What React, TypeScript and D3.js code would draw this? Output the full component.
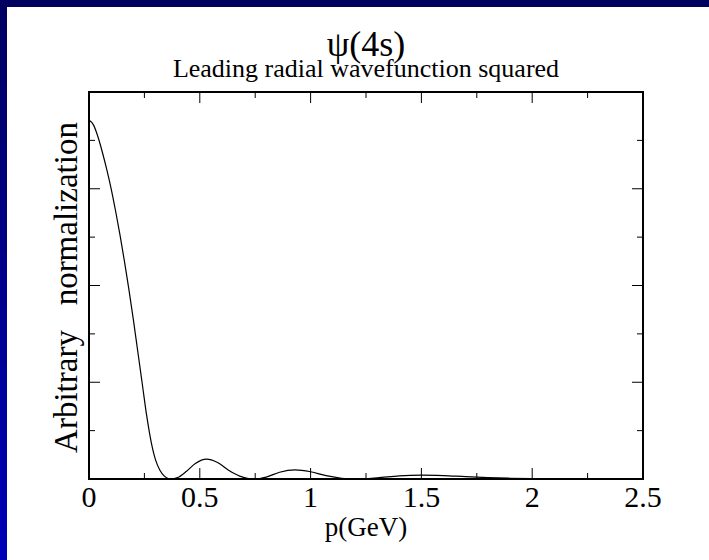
import React from "react";
import * as d3 from "d3";

const pValues = [0, 0.02, 0.04, 0.06, 0.08, 0.1, 0.12, 0.14, 0.16, 0.18, 0.2, 0.22, 0.24, 0.26, 0.28, 0.3, 0.32, 0.34, 0.36, 0.37, 0.4, 0.44, 0.48, 0.53, 0.58, 0.63, 0.68, 0.72, 0.75, 0.8, 0.86, 0.93, 1.0, 1.07, 1.14, 1.2, 1.3, 1.4, 1.5, 1.6, 1.7, 1.8, 1.9, 2.0, 2.1, 2.2, 2.5];
const psiValues = [3.71, 3.66, 3.54, 3.38, 3.2, 3.0, 2.77, 2.52, 2.25, 1.96, 1.65, 1.32, 0.99, 0.66, 0.39, 0.2, 0.09, 0.03, 0.003, 0, 0.015, 0.08, 0.16, 0.205, 0.17, 0.09, 0.03, 0.005, 0, 0.02, 0.07, 0.094, 0.075, 0.035, 0.008, 0, 0.012, 0.033, 0.04, 0.035, 0.024, 0.015, 0.008, 0.003, 0.001, 0, 0];
const xTickLabels = ["0", "0.5", "1", "1.5", "2", "2.5"];
const xMajor = [0, 0.5, 1, 1.5, 2, 2.5];
const xMinor = [0.25, 0.75, 1.25, 1.75, 2.25];
const yMajor = [1, 2, 3];
const yMinor = [0.5, 1.5, 2.5, 3.5];

const W = 709, H = 560;
const L = 89, R = 643, T = 92, B = 479;
const FONT = "Liberation Serif, Times New Roman, DejaVu Serif, serif";

export default function App() {
  const x = d3.scaleLinear().domain([0, 2.5]).range([L, R]);
  const y = d3.scaleLinear().domain([0, 4]).range([B, T]);
  const data = pValues.map((p, i) => [p, psiValues[i]] as [number, number]);
  const line = d3.line<[number, number]>().x(d => x(d[0])).y(d => y(d[1])).curve(d3.curveMonotoneX);

  const majorLen = 11, minorLen = 6;
  const txt = { fontFamily: FONT, fill: "#000" } as React.CSSProperties;
  return (
    <svg width={W} height={H} style={{ position: "absolute", left: 0, top: 0 }} xmlns="http://www.w3.org/2000/svg">
      <defs>
        <linearGradient id="leftGrad" x1="0" y1="0" x2="0" y2="1">
          <stop offset="0" stopColor="#000060" />
          <stop offset="1" stopColor="#0000b8" />
        </linearGradient>
      </defs>
      <rect x={0} y={0} width={W} height={H} fill="#ffffff" />
      <rect x={0} y={0} width={7} height={H} fill="url(#leftGrad)" />
      <rect x={0} y={0} width={W} height={7} fill="#000060" />

      <text x={366} y={56} textAnchor="middle" style={{ ...txt, fontSize: 36 }}>ψ(4s)</text>
      <text x={366} y={77} textAnchor="middle" style={{ ...txt, fontSize: 26 }}>Leading radial wavefunction squared</text>

      {xMajor.map((v, i) => (
        <g key={"xM" + i}>
          <line x1={x(v)} x2={x(v)} y1={B} y2={B - majorLen} stroke="#000" strokeWidth={1} />
          <line x1={x(v)} x2={x(v)} y1={T} y2={T + majorLen} stroke="#000" strokeWidth={1} />
        </g>
      ))}
      {xMinor.map((v, i) => (
        <g key={"xm" + i}>
          <line x1={x(v)} x2={x(v)} y1={B} y2={B - minorLen} stroke="#000" strokeWidth={1} />
          <line x1={x(v)} x2={x(v)} y1={T} y2={T + minorLen} stroke="#000" strokeWidth={1} />
        </g>
      ))}
      {yMajor.map((v, i) => (
        <g key={"yM" + i}>
          <line x1={L} x2={L + majorLen} y1={y(v)} y2={y(v)} stroke="#000" strokeWidth={1} />
          <line x1={R} x2={R - majorLen} y1={y(v)} y2={y(v)} stroke="#000" strokeWidth={1} />
        </g>
      ))}
      {yMinor.map((v, i) => (
        <g key={"ym" + i}>
          <line x1={L} x2={L + minorLen} y1={y(v)} y2={y(v)} stroke="#000" strokeWidth={1} />
          <line x1={R} x2={R - minorLen} y1={y(v)} y2={y(v)} stroke="#000" strokeWidth={1} />
        </g>
      ))}

      <path d={line(data) || ""} fill="none" stroke="#000" strokeWidth={1.2} />
      <rect x={L} y={T} width={R - L} height={B - T} fill="none" stroke="#000" strokeWidth={2} />

      {xMajor.map((v, i) => (
        <text key={"xl" + i} x={x(v)} y={507} textAnchor="middle" style={{ ...txt, fontSize: 30 }}>{xTickLabels[i]}</text>
      ))}
      <text x={366} y={536} textAnchor="middle" style={{ ...txt, fontSize: 27 }}>p(GeV)</text>
      <text transform={`translate(77,${(T + B) / 2 + 2}) rotate(-90)`} textAnchor="middle" style={{ ...txt, fontSize: 33, whiteSpace: "pre" }}>{"Arbitrary   normalization"}</text>
    </svg>
  );
}
